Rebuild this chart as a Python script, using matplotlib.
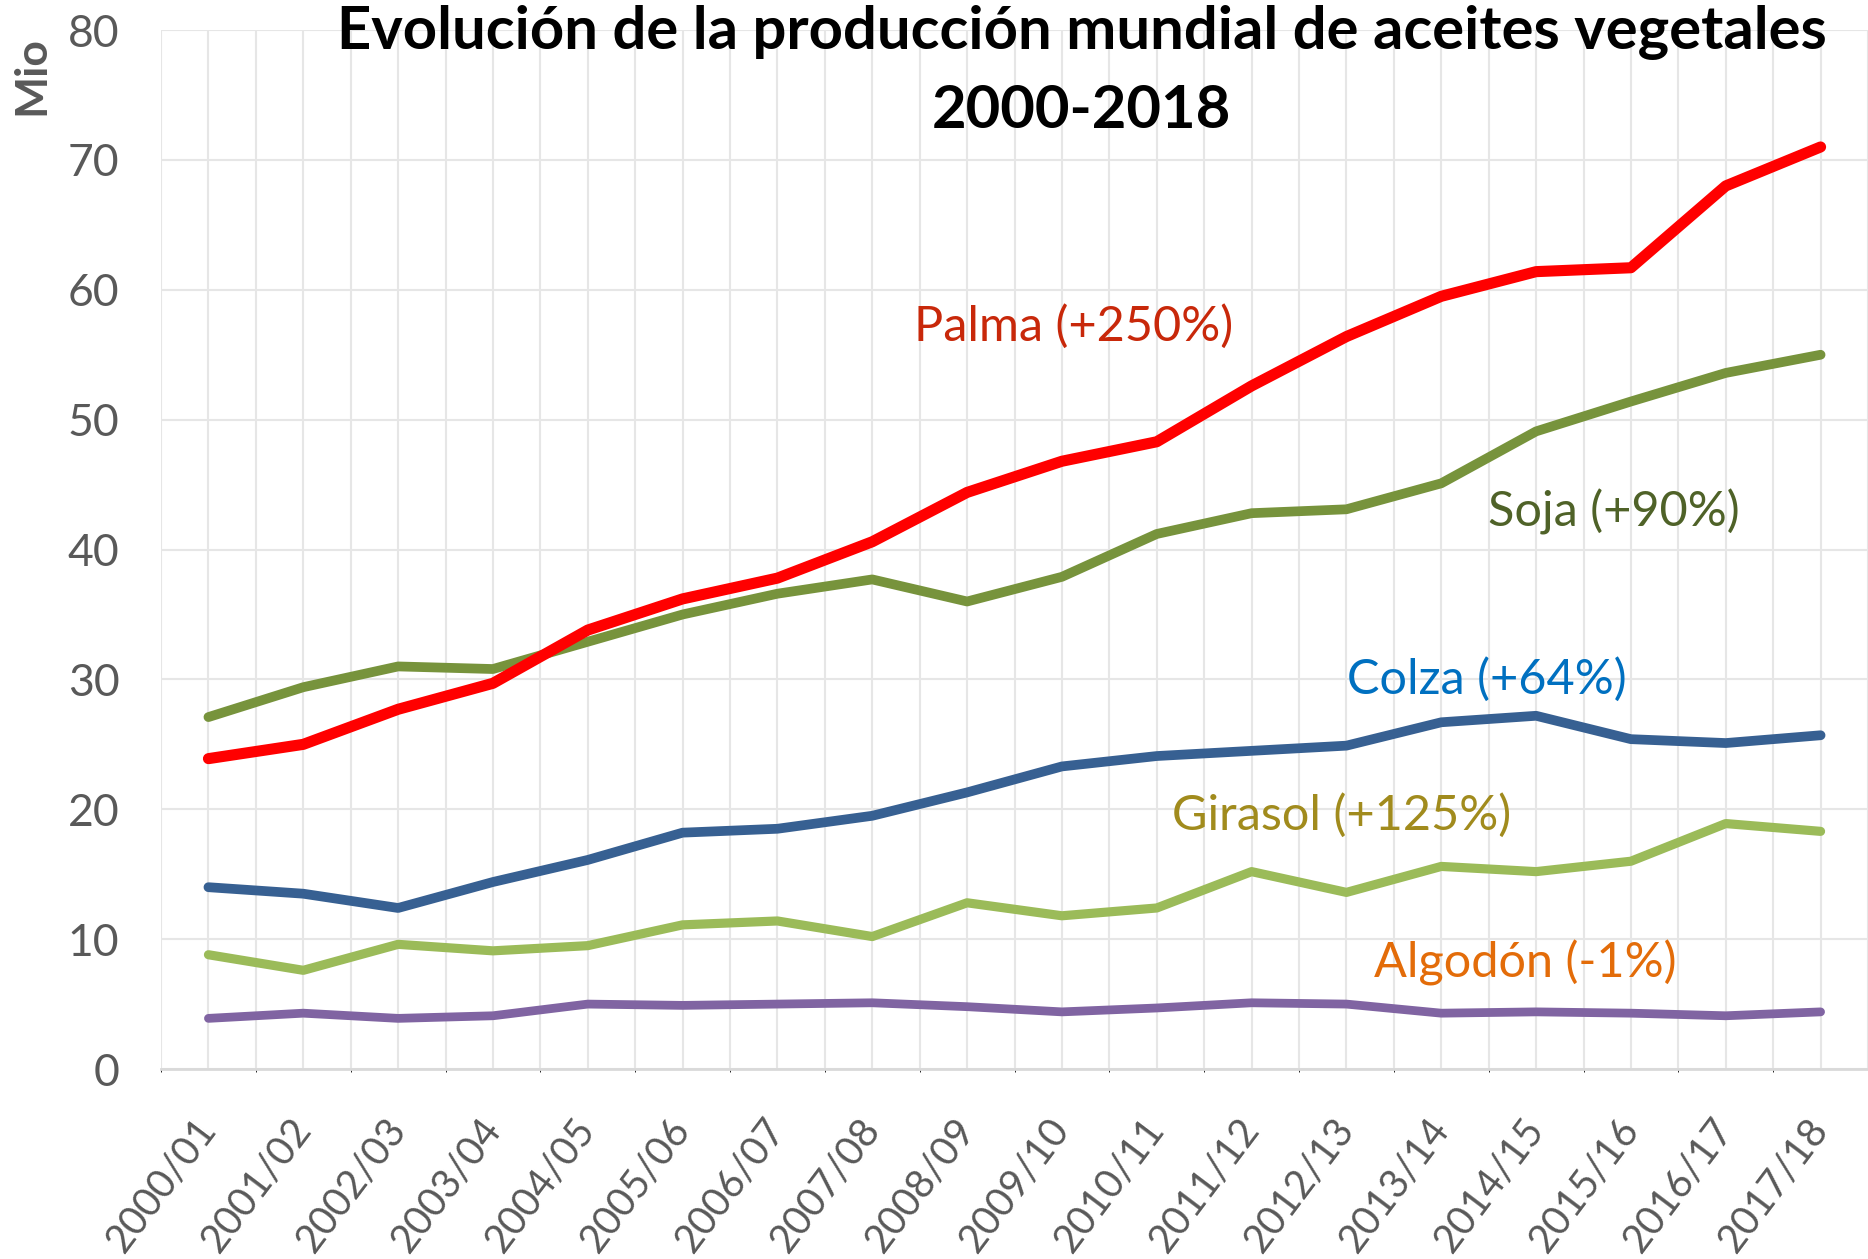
import matplotlib
matplotlib.use('Agg')
import matplotlib.pyplot as plt
import numpy as np

seasons = ['2000/01', '2001/02', '2002/03', '2003/04', '2004/05', '2005/06',
           '2006/07', '2007/08', '2008/09', '2009/10', '2010/11', '2011/12',
           '2012/13', '2013/14', '2014/15', '2015/16', '2016/17', '2017/18']

palma = [23.9, 25.0, 27.7, 29.7, 33.8, 36.2, 37.8, 40.6, 44.4, 46.8,
         48.3, 52.6, 56.4, 59.5, 61.4, 61.7, 68.0, 71.0]
soja = [27.1, 29.4, 31.0, 30.8, 32.9, 35.0, 36.6, 37.7, 36.0, 37.9,
        41.2, 42.8, 43.1, 45.1, 49.1, 51.4, 53.6, 55.0]
colza = [14.0, 13.5, 12.4, 14.4, 16.1, 18.2, 18.5, 19.5, 21.3, 23.3,
         24.1, 24.5, 24.9, 26.7, 27.2, 25.4, 25.1, 25.7]
girasol = [8.8, 7.6, 9.6, 9.1, 9.5, 11.1, 11.4, 10.2, 12.8, 11.8,
           12.4, 15.2, 13.6, 15.6, 15.2, 16.0, 18.9, 18.3]
algodon = [3.9, 4.3, 3.9, 4.1, 5.0, 4.9, 5.0, 5.1, 4.8, 4.4,
           4.7, 5.1, 5.0, 4.3, 4.4, 4.3, 4.1, 4.4]

labels = ['Palma (+250%)', 'Soja (+90%)', 'Colza (+64%)',
          'Girasol (+125%)', 'Algodón (-1%)']

plt.rcParams['font.family'] = ['Lato', 'DejaVu Sans']

fig = plt.figure(figsize=(18.68, 12.59), dpi=100)
ax = fig.add_axes([0.0862, 0.1509, 0.9138, 0.8252])

x = np.arange(len(seasons))
ax.plot(x, algodon, color='#8064A2', lw=6.3, solid_capstyle='round', zorder=3)
ax.plot(x, girasol, color='#9BBB59', lw=6.6, solid_capstyle='round', zorder=3)
ax.plot(x, colza, color='#376092', lw=7, solid_capstyle='round', zorder=3)
ax.plot(x, soja, color='#77933C', lw=7, solid_capstyle='round', zorder=3)
ax.plot(x, palma, color='#FF0000', lw=8, solid_capstyle='round', zorder=4)

ax.set_xlim(-0.5, len(seasons) - 0.5)
ax.set_ylim(0, 80)
ax.set_yticks(range(0, 81, 10))
ax.set_xticks(x)
ax.set_xticks(np.arange(-0.5, len(seasons), 1.0), minor=True)
ax.set_xticklabels(seasons, rotation=53, ha='right', va='center',
                   rotation_mode='anchor')
ax.tick_params(axis='both', length=0, colors='#595959')
ax.tick_params(axis='x', which='both', pad=39, labelsize=28.5)
ax.tick_params(axis='y', pad=30, labelsize=32)
ax.grid(True, which='both', color='#E6E6E6', lw=1.5, zorder=0)
ax.set_axisbelow(True)
for s in ['left', 'right', 'top']:
    ax.spines[s].set_visible(False)
ax.spines['bottom'].set_color('#D9D9D9')
ax.spines['bottom'].set_linewidth(2)

fig.text(0.017, 0.940, 'Mio', rotation=90, ha='center', va='center',
         fontsize=32, fontweight='bold', color='#595959')

fig.text(0.579, 0.943, 'Evolución de la producción mundial de aceites vegetales\n2000-2018',
         ha='center', va='center', fontsize=43, fontweight='bold',
         linespacing=1.55, color='black')

ax.text(7.44, 57.2, labels[0], color='#C8280A', fontsize=35, va='center', ha='left')
ax.text(13.49, 42.9, labels[1], color='#4F6228', fontsize=35, va='center', ha='left')
ax.text(12.01, 30.0, labels[2], color='#0070C0', fontsize=35, va='center', ha='left')
ax.text(10.16, 19.5, labels[3], color='#A18B1D', fontsize=35, va='center', ha='left')
ax.text(12.29, 8.2, labels[4], color='#E36C09', fontsize=35, va='center', ha='left')

fig.savefig('out.png', dpi=100)
